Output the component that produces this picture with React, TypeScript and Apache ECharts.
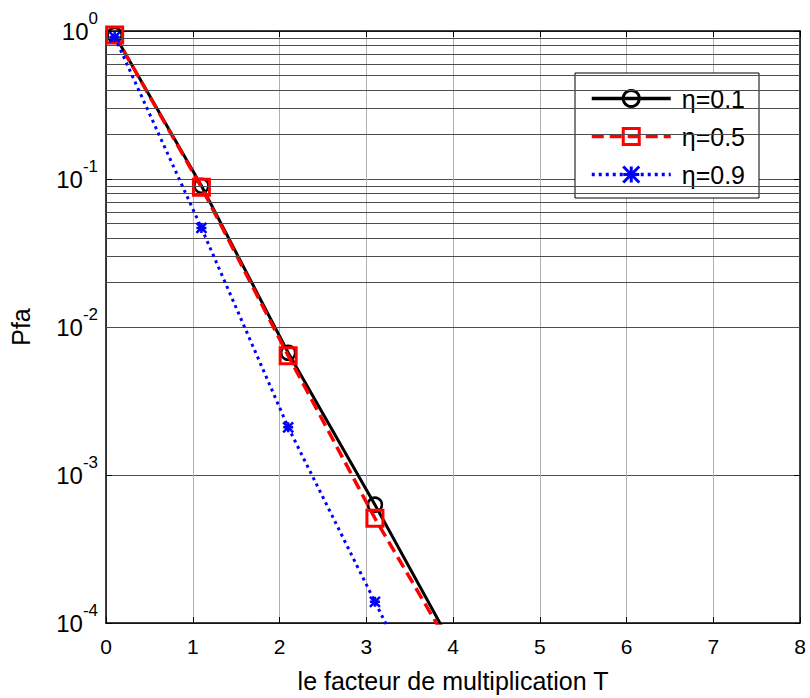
import React, { useEffect, useRef } from "react";
import * as echarts from "echarts";

const xValues = [0.1, 1.1, 2.1, 3.1, 4.1];
const eta01 = [0.94, 0.09, 0.0067, 6.3e-4, 5.4e-5];
const eta05 = [0.94, 0.088, 0.0064, 5.1e-4, 5.1e-5];
const eta09 = [0.91, 0.0467, 0.0021, 1.39e-4, 9.3e-6];
const seriesNames = ["η=0.1", "η=0.5", "η=0.9"];
const decades = [1e-4, 1e-3, 1e-2, 1e-1];
const minorMultipliers = [2, 3, 4, 5, 6, 7, 8, 9];

const FONT = 'Arial, "Liberation Sans", Helvetica, sans-serif';

export default function App() {
  const ref = useRef<HTMLDivElement>(null);
  useEffect(() => {
    if (!ref.current) return;
    const chart = echarts.init(ref.current, undefined, { renderer: "svg" });
    const minorGrid: number[] = [];
    decades.forEach((d) => minorMultipliers.forEach((m) => minorGrid.push(m * d)));
    const pairs = (ys: number[]) => xValues.map((x, i) => [x, ys[i]]);
    const starPath = "path://M0,0L10,10M10,0L0,10M5,0L5,10M0,5L10,5";
    const option: any = {
      animation: false,
      backgroundColor: "#fff",
      textStyle: { fontFamily: FONT },
      grid: { left: 105, right: 10, top: 31, bottom: 75, containLabel: false },
      legend: {
        data: seriesNames,
        orient: "vertical",
        left: 575,
        top: 73,
        itemWidth: 79,
        itemHeight: 20,
        itemGap: 13,
        padding: [13, 14, 11, 15],
        borderColor: "#000",
        borderWidth: 1,
        backgroundColor: "#fff",
        borderRadius: 0,
        lineStyle: { width: 3.5 },
        itemStyle: { borderWidth: 3 },
        textStyle: { fontSize: 25, color: "#000", fontFamily: FONT, padding: [0, 0, 0, 6] },
      },
      xAxis: [
        {
          type: "value",
          min: 0,
          max: 8,
          interval: 1,
          name: "le facteur de multiplication T",
          nameLocation: "middle",
          nameGap: 45,
          nameTextStyle: { fontSize: 25, color: "#000", fontFamily: FONT },
          axisLine: { show: true, onZero: false, lineStyle: { color: "#000", width: 1.5 } },
          axisTick: { show: true, inside: true, length: 6, lineStyle: { color: "#000" } },
          axisLabel: { fontSize: 21, color: "#000", margin: 13, fontFamily: FONT },
          splitLine: { show: true, lineStyle: { color: "#b0b0b0", width: 1 } },
        },
        {
          type: "value",
          position: "top",
          min: 0,
          max: 8,
          interval: 1,
          axisLine: { show: true, onZero: false, lineStyle: { color: "#000", width: 1.5 } },
          axisTick: { show: true, inside: true, length: 6, lineStyle: { color: "#000" } },
          axisLabel: { show: false },
          splitLine: { show: false },
        },
      ],
      yAxis: [
        {
          type: "log",
          logBase: 10,
          min: 1e-4,
          max: 1,
          name: "Pfa",
          nameLocation: "middle",
          nameGap: 73,
          nameTextStyle: { fontSize: 25, color: "#000", fontFamily: FONT },
          axisLine: { show: true, onZero: false, lineStyle: { color: "#000", width: 1.5 } },
          axisTick: { show: true, inside: true, length: 6, lineStyle: { color: "#000" } },
          axisLabel: {
            color: "#000",
            margin: 8,
            showMinLabel: true,
            showMaxLabel: true,
            formatter: (v: number) => {
              const e = Math.round(Math.log10(v));
              return `{b|10}{s|${e}}`;
            },
            rich: {
              b: { fontSize: 24, lineHeight: 42, fontFamily: FONT, color: "#000" },
              s: { fontSize: 17, lineHeight: 14, verticalAlign: "top", fontFamily: FONT, color: "#000" },
            },
          },
          splitLine: { show: true, lineStyle: { color: "#4d4d4d", width: 1 } },
        },
        {
          type: "log",
          logBase: 10,
          min: 1e-4,
          max: 1,
          position: "right",
          axisLine: { show: true, onZero: false, lineStyle: { color: "#000", width: 1.5 } },
          axisTick: { show: true, inside: true, length: 6, lineStyle: { color: "#000" } },
          axisLabel: { show: false },
          splitLine: { show: false },
        },
      ],
      series: [
        {
          name: "grid-minor",
          type: "line",
          data: [],
          silent: true,
          markLine: {
            silent: true,
            symbol: ["none", "none"],
            label: { show: false },
            lineStyle: { color: "#4d4d4d", width: 1, type: "solid" },
            data: minorGrid.map((v) => ({ yAxis: v })),
          },
        },
        {
          name: seriesNames[0],
          type: "line",
          data: pairs(eta01),
          symbol: "circle",
          symbolSize: 14,
          clip: true,
          lineStyle: { color: "#000", width: 3, type: "solid" },
          itemStyle: { color: "transparent", borderColor: "#000", borderWidth: 2.5 },
          z: 3,
        },
        {
          name: seriesNames[1],
          type: "line",
          data: pairs(eta05),
          symbol: "rect",
          symbolSize: 16,
          clip: true,
          lineStyle: { color: "#ff0000", width: 3.5, type: [12, 6] },
          itemStyle: { color: "transparent", borderColor: "#ff0000", borderWidth: 3 },
          z: 4,
        },
        {
          name: seriesNames[2],
          type: "line",
          data: pairs(eta09),
          symbol: starPath,
          symbolSize: 10,
          clip: true,
          lineStyle: { color: "#0000ff", width: 3, type: [3, 4] },
          itemStyle: { color: "transparent", borderColor: "#0000ff", borderWidth: 2.5 },
          z: 5,
        },
      ],
    };
    chart.setOption(option);
    return () => chart.dispose();
  }, []);
  return (
    <div
      ref={ref}
      style={{ position: "fixed", left: 0, top: 0, width: 810, height: 698, background: "#fff" }}
    />
  );
}
